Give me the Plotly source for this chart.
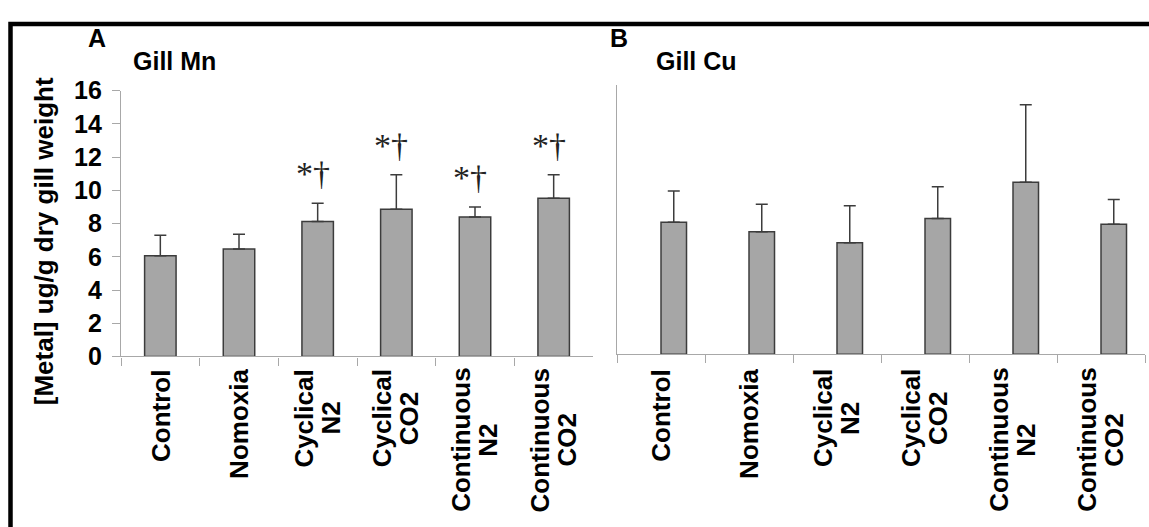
import plotly.graph_objects as go

# ---- data -------------------------------------------------------------
groups = ["Control", "Nomoxia", "Cyclical N2", "Cyclical CO2",
          "Continuous N2", "Continuous CO2"]
group_labels = ["Control", "Nomoxia", "Cyclical<br>N2", "Cyclical<br>CO2",
                "Continuous<br>N2", "Continuous<br>CO2"]

mn_mean = [6.07, 6.47, 8.12, 8.86, 8.40, 9.52]
mn_sd = [1.23, 0.89, 1.10, 2.08, 0.60, 1.42]
mn_marks = ["", "", "*†", "*†", "*†", "*†"]

cu_mean = [7.84, 7.28, 6.62, 8.06, 10.22, 7.73]
cu_sd = [1.86, 1.63, 2.21, 1.90, 4.60, 1.46]

y_ticks = [0, 2, 4, 6, 8, 10, 12, 14, 16]

# ---- page geometry (pixels) ---------------------------------------------
W, H = 1149, 527


def fx(px):
    return px / W


def fy(px):
    return 1 - px / H


FONT = "Arial, Liberation Sans, sans-serif"
BAR_FILL = "#a6a6a6"
BAR_EDGE = "#3c3c3c"
AXIS_GREY = "#a8a8a8"

# Arial Bold advance widths (em/1000) for laying out the rotated labels
ARIAL_BOLD = {"C": 722, "o": 611, "n": 611, "t": 333, "r": 389, "l": 278,
              "N": 722, "m": 889, "x": 556, "i": 278, "a": 556, "y": 556,
              "c": 556, "u": 611, "s": 556, "O": 778, "2": 556, " ": 278}


def text_len(s, size):
    return sum(ARIAL_BOLD.get(ch, 600) for ch in s) * size / 1000


fig = go.Figure()

fig.add_trace(go.Bar(
    x=groups, y=mn_mean, width=0.4,
    marker=dict(color=BAR_FILL, line=dict(color=BAR_EDGE, width=1.5)),
    error_y=dict(type="data", symmetric=False, array=mn_sd,
                 arrayminus=[0] * len(mn_sd), color=BAR_EDGE,
                 thickness=1.5, width=6),
    xaxis="x", yaxis="y", showlegend=False, hoverinfo="skip",
))

fig.add_trace(go.Bar(
    x=groups, y=cu_mean, width=0.29, offset=0,
    marker=dict(color=BAR_FILL, line=dict(color=BAR_EDGE, width=1.5)),
    error_y=dict(type="data", symmetric=False, array=cu_sd,
                 arrayminus=[0] * len(cu_sd), color=BAR_EDGE,
                 thickness=1.5, width=6),
    xaxis="x2", yaxis="y2", showlegend=False, hoverinfo="skip",
))

common_x = dict(type="category", range=[-0.5, len(groups) - 0.5],
                showline=True, linecolor=AXIS_GREY, linewidth=1.3,
                ticks="outside", tickson="boundaries", ticklen=8,
                tickcolor=AXIS_GREY, tickwidth=1.3,
                showticklabels=False, showgrid=False, zeroline=False,
                fixedrange=True)

fig.update_layout(
    width=W, height=H,
    margin=dict(l=0, r=0, t=0, b=0),
    paper_bgcolor="white", plot_bgcolor="white",
    font=dict(family=FONT, color="black"),
    xaxis=dict(domain=[fx(121), fx(593)], anchor="y", **common_x),
    yaxis=dict(domain=[fy(361.7), fy(81)], anchor="x", range=[0, 16],
               tickvals=y_ticks, ticks="outside", ticklen=8,
               tickcolor=AXIS_GREY, tickwidth=1.3,
               showline=True, linecolor=AXIS_GREY, linewidth=1.3,
               showgrid=False, zeroline=False,
               tickfont=dict(family=FONT, size=25, weight="bold"),
               ticklabelstandoff=5),
    xaxis2=dict(domain=[fx(617), fx(1145)], anchor="y2", **common_x),
    yaxis2=dict(domain=[fy(359.3), fy(75)], anchor="x2", range=[0, 16],
                showline=True, linecolor=AXIS_GREY, linewidth=1.3,
                ticks="", showticklabels=False, showgrid=False,
                zeroline=False),
)

annotations = []
bold = dict(family=FONT, color="black", weight="bold")

# panel letters and titles
for text, left, mid, size in [("A", 87, 25, 25), ("Gill Mn", 132, 50, 25),
                              ("B", 609, 25, 25), ("Gill Cu", 655, 50, 25)]:
    annotations.append(dict(text=text, xref="paper", yref="paper",
                            x=fx(left), y=fy(mid), xanchor="left",
                            yanchor="middle", showarrow=False,
                            borderpad=0, font=dict(size=size, **bold)))

# y-axis title
annotations.append(dict(text="[Metal] ug/g dry gill weight", xref="paper",
                        yref="paper", x=fx(44), y=fy(240), textangle=-90,
                        xanchor="center", yanchor="middle", showarrow=False,
                        borderpad=0, font=dict(size=26, **bold)))

# rotated category labels under both panels; every line is centred on
# the longest line of its label
LABEL_SIZE = 26
LABEL_TOP = 378
LINE_GAP = 27
for xref in ("x", "x2"):
    for g, lab in zip(groups, group_labels):
        lines = lab.split("<br>")
        longest = max(text_len(s, LABEL_SIZE) for s in lines)
        mid_px = LABEL_TOP + longest / 2
        n = len(lines)
        for i, line in enumerate(lines):
            annotations.append(dict(text=line, xref=xref, yref="paper", x=g,
                                    y=fy(mid_px), textangle=-90,
                                    xanchor="center", yanchor="middle",
                                    xshift=(i - (n - 1) / 2) * LINE_GAP,
                                    showarrow=False, borderpad=0,
                                    font=dict(size=LABEL_SIZE, **bold)))

# significance marks above the Mn error bars
for g, m, s, mark in zip(groups, mn_mean, mn_sd, mn_marks):
    if mark:
        annotations.append(dict(text=mark, xref="x", yref="y", x=g,
                                y=m + s + 0.6, xanchor="center",
                                yanchor="bottom", xshift=-5, showarrow=False,
                                borderpad=0,
                                font=dict(family="Liberation Serif, Times New Roman, serif",
                                          size=34, color="#222222")))

fig.update_layout(annotations=annotations)

# outer frame (open on the right and bottom edges of the page)
fig.add_shape(type="rect", xref="paper", yref="paper",
              x0=fx(10.5), x1=1.3, y0=-0.3, y1=fy(10.5),
              line=dict(color="black", width=4.5), fillcolor="rgba(0,0,0,0)",
              layer="above")

fig.write_html("out.html")
